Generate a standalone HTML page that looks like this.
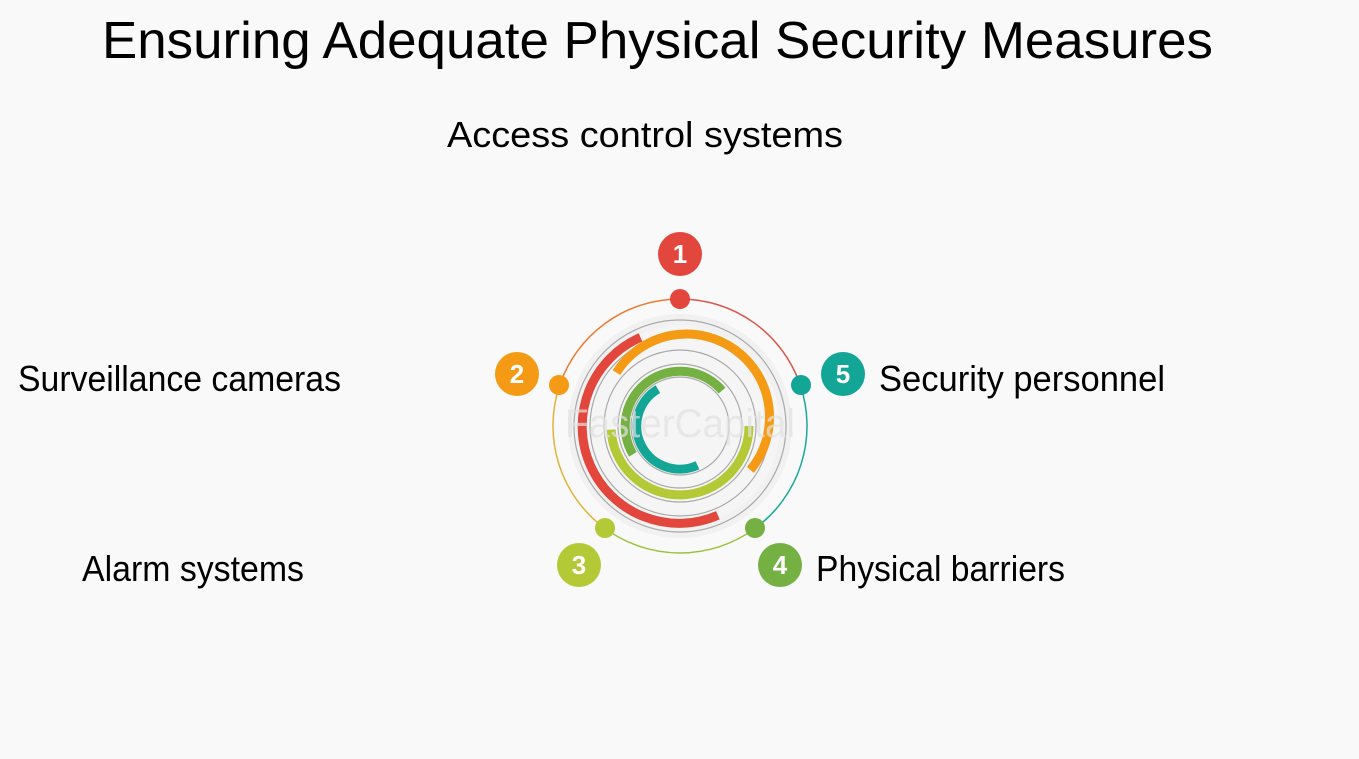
<!DOCTYPE html>
<html><head><meta charset="utf-8"><style>
html,body{margin:0;padding:0;background:#f9f9f9;}
svg{display:block;}
text{font-family:"Liberation Sans",sans-serif;fill:#000;}
</style></head><body>
<svg width="1359" height="759" viewBox="0 0 1359 759" xmlns="http://www.w3.org/2000/svg">
<rect width="1359" height="759" fill="#f9f9f9"/>
<text x="102" y="58" font-size="52" textLength="1111" lengthAdjust="spacingAndGlyphs">Ensuring Adequate Physical Security Measures</text>
<text x="447" y="147" font-size="36" textLength="396" lengthAdjust="spacingAndGlyphs">Access control systems</text>
<text x="18" y="391" font-size="36" textLength="323" lengthAdjust="spacingAndGlyphs">Surveillance cameras</text>
<text x="879" y="391" font-size="36" textLength="286" lengthAdjust="spacingAndGlyphs">Security personnel</text>
<text x="82" y="581" font-size="36" textLength="222" lengthAdjust="spacingAndGlyphs">Alarm systems</text>
<text x="816" y="581" font-size="36" textLength="249" lengthAdjust="spacingAndGlyphs">Physical barriers</text>

<g transform="translate(680,426)">
  <circle r="112" fill="#f1f1f1"/>
  <circle r="100" fill="#f5f5f5"/>
  <g fill="none" stroke="#aaa" stroke-width="1.2">
    <circle r="106"/><circle r="90"/><circle r="76"/><circle r="62"/><circle r="49"/>
  </g>
  <g fill="none" stroke-width="1.5">
    <path d="M -120.4,-40.5 A 127 127 0 0 1 0,-127" stroke="#ec7a30"/>
    <path d="M 0,-127 A 127 127 0 0 1 120.2,-41.1" stroke="#d9574a"/>
    <path d="M 120.2,-41.1 A 127 127 0 0 1 74.6,102.7" stroke="#1aa89a"/>
    <path d="M 74.6,102.7 A 127 127 0 0 1 -75.9,101.8" stroke="#9cc23e"/>
    <path d="M -75.9,101.8 A 127 127 0 0 1 -120.4,-40.5" stroke="#e0b43a"/>
  </g>
  <g fill="none" stroke-width="9" stroke-linecap="butt">
    <path d="M 37.9,89.3 A 97 97 0 0 1 -39.5,-88.6" stroke="#e2463c"/>
    <path d="M -63.6,-53.4 A 83 83 0 1 1 70.4,44" stroke="#f59a14"/>
    <path d="M 69,0 A 69 69 0 0 1 -68.9,3.6" stroke="#b3c936"/>
    <path d="M -47.1,28.3 A 55 55 0 0 1 42.1,-35.4" stroke="#75b043"/>
    <path d="M 17.5,39.3 A 43 43 0 0 1 -22.1,-36.9" stroke="#13a697"/>
  </g>
</g>
<text x="680" y="437" font-size="40" style="fill:#e2e2e2" text-anchor="middle" opacity="0.7" textLength="230" lengthAdjust="spacingAndGlyphs">FasterCapital</text>

<circle cx="680" cy="299" r="10" fill="#e2463c"/>
<circle cx="559" cy="385" r="10" fill="#f59a14"/>
<circle cx="801" cy="385" r="10" fill="#13a697"/>
<circle cx="605" cy="528" r="10" fill="#b3c936"/>
<circle cx="755" cy="528" r="10" fill="#75b043"/>

<g font-size="26" font-weight="bold" text-anchor="middle">
<circle cx="680" cy="254" r="22" fill="#e2463c"/><text x="680" y="263" style="fill:#fff">1</text>
<circle cx="517" cy="374" r="22" fill="#f59a14"/><text x="517" y="383" style="fill:#fff">2</text>
<circle cx="843" cy="374" r="22" fill="#13a697"/><text x="843" y="383" style="fill:#fff">5</text>
<circle cx="579" cy="565" r="22" fill="#b3c936"/><text x="579" y="574" style="fill:#fff">3</text>
<circle cx="780" cy="565" r="22" fill="#75b043"/><text x="780" y="574" style="fill:#fff">4</text>
</g>
</svg>
</body></html>
